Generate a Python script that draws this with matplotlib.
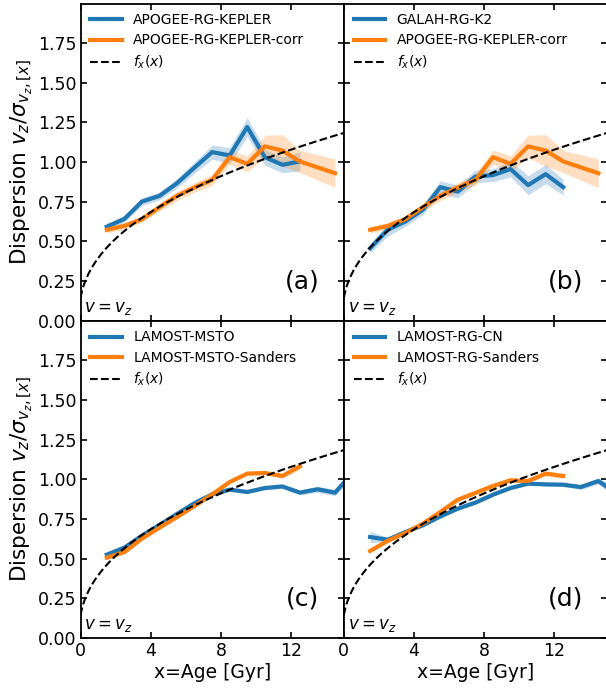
import numpy as np
import matplotlib
matplotlib.use("Agg")
import matplotlib.pyplot as plt

# ---------------- data ----------------
age_apogee = [1.5, 2.5, 3.5, 4.5, 5.5, 6.5, 7.5, 8.5, 9.5, 10.5, 11.5, 12.5]
apogee_kepler = [0.593, 0.642, 0.751, 0.787, 0.867, 0.966, 1.063, 1.042, 1.221, 1.031, 0.983, 1.004]
apogee_kepler_err = [0.02, 0.02, 0.025, 0.025, 0.03, 0.035, 0.045, 0.05, 0.06, 0.05, 0.05, 0.06]

age_corr = [1.5, 2.5, 3.5, 4.5, 5.5, 6.5, 7.5, 8.5, 9.5, 10.5, 11.5, 12.5, 13.5, 14.5]
apogee_corr = [0.573, 0.598, 0.640, 0.716, 0.787, 0.840, 0.888, 1.031, 0.989, 1.099, 1.073, 1.004, 0.967, 0.930]
apogee_corr_err = [0.02, 0.02, 0.02, 0.025, 0.03, 0.03, 0.035, 0.045, 0.05, 0.07, 0.1, 0.07, 0.08, 0.09]

age_galah = [1.5, 2.5, 3.5, 4.5, 5.5, 6.5, 7.5, 8.5, 9.5, 10.5, 11.5, 12.5]
galah_k2 = [0.457, 0.573, 0.625, 0.699, 0.842, 0.814, 0.909, 0.918, 0.956, 0.855, 0.924, 0.842]
galah_k2_err = [0.03, 0.04, 0.03, 0.03, 0.04, 0.04, 0.04, 0.04, 0.05, 0.06, 0.06, 0.05]

age_msto = [1.5, 2.5, 3.5, 4.5, 5.5, 6.5, 7.5, 8.5, 9.5, 10.5, 11.5, 12.5, 13.5, 14.5, 15.5]
lamost_msto = [0.525, 0.569, 0.645, 0.712, 0.782, 0.850, 0.905, 0.935, 0.920, 0.945, 0.955, 0.916, 0.937, 0.916, 1.04]
lamost_msto_err = [0.012, 0.01, 0.01, 0.01, 0.01, 0.01, 0.01, 0.01, 0.01, 0.012, 0.012, 0.015, 0.02, 0.02, 0.03]

age_msto_s = [1.5, 2.5, 3.5, 4.5, 5.5, 6.5, 7.5, 8.5, 9.5, 10.5, 11.5, 12.5]
lamost_msto_sanders = [0.506, 0.541, 0.626, 0.695, 0.762, 0.832, 0.905, 0.983, 1.036, 1.040, 1.021, 1.082]
lamost_msto_sanders_err = [0.012, 0.01, 0.01, 0.01, 0.01, 0.01, 0.01, 0.01, 0.012, 0.012, 0.015, 0.02]

age_rgcn = [1.5, 2.5, 3.5, 4.5, 5.5, 6.5, 7.5, 8.5, 9.5, 10.5, 11.5, 12.5, 13.5, 14.5, 15.5]
lamost_rg_cn = [0.636, 0.619, 0.667, 0.710, 0.766, 0.815, 0.853, 0.903, 0.945, 0.973, 0.968, 0.966, 0.951, 0.989, 0.915]
lamost_rg_cn_err = [0.035, 0.015, 0.01, 0.01, 0.01, 0.01, 0.01, 0.01, 0.01, 0.01, 0.01, 0.012, 0.015, 0.02, 0.03]

age_rg_s = [1.5, 2.5, 3.5, 4.5, 5.5, 6.5, 7.5, 8.5, 9.5, 10.5, 11.5, 12.5]
lamost_rg_sanders = [0.548, 0.612, 0.661, 0.720, 0.794, 0.872, 0.914, 0.958, 0.994, 0.989, 1.036, 1.021]
lamost_rg_sanders_err = [0.01, 0.01, 0.01, 0.01, 0.01, 0.01, 0.01, 0.01, 0.012, 0.012, 0.015, 0.015]

# model f_x(x) = ((x + tau1) / (10 + tau1))**beta
tau1 = 0.1
beta = 0.42

panels = [
    ("APOGEE-RG-KEPLER", age_apogee, apogee_kepler, apogee_kepler_err,
     "APOGEE-RG-KEPLER-corr", age_corr, apogee_corr, apogee_corr_err, "(a)"),
    ("GALAH-RG-K2", age_galah, galah_k2, galah_k2_err,
     "APOGEE-RG-KEPLER-corr", age_corr, apogee_corr, apogee_corr_err, "(b)"),
    ("LAMOST-MSTO", age_msto, lamost_msto, lamost_msto_err,
     "LAMOST-MSTO-Sanders", age_msto_s, lamost_msto_sanders, lamost_msto_sanders_err, "(c)"),
    ("LAMOST-RG-CN", age_rgcn, lamost_rg_cn, lamost_rg_cn_err,
     "LAMOST-RG-Sanders", age_rg_s, lamost_rg_sanders, lamost_rg_sanders_err, "(d)"),
]

# ---------------- figure ----------------
W, H = 606, 689
fig = plt.figure(figsize=(W / 100, H / 100), dpi=100)

left = 80.5
pw = 263.3
top = 3.5
ph = 317.2
positions = [
    (left, top), (left + pw, top),
    (left, top + ph), (left + pw, top + ph),
]

blue = "#1f77b4"
orange = "#ff7f0e"
xm = np.linspace(0, 16, 400)
fm = ((xm + tau1) / (10 + tau1)) ** beta

for i, (pos, p) in enumerate(zip(positions, panels)):
    lb, xb, yb, eb, lo, xo, yo, eo, tag = p
    x0, y0 = pos
    ax = fig.add_axes([x0 / W, 1 - (y0 + ph) / H, pw / W, ph / H])
    xb_ = np.array(xb); yb_ = np.array(yb); eb_ = np.array(eb)
    xo_ = np.array(xo); yo_ = np.array(yo); eo_ = np.array(eo)
    ax.fill_between(xb_, yb_ - eb_, yb_ + eb_, color=blue, alpha=0.25, lw=0)
    ax.fill_between(xo_, yo_ - eo_, yo_ + eo_, color=orange, alpha=0.25, lw=0)
    ax.plot(xb_, yb_, color=blue, lw=3, label=lb)
    ax.plot(xo_, yo_, color=orange, lw=3, label=lo)
    ax.plot(xm, fm, color="black", ls="--", lw=1.5, label=r"$f_x(x)$")
    ax.set_xlim(0, 15)
    ax.set_ylim(0, 2.0)
    ax.set_xticks([0, 4, 8, 12])
    ax.set_yticks(np.arange(0, 1.76, 0.25))
    ax.tick_params(direction="in", top=True, right=True, length=4, width=1.2,
                   labelsize=12.5, pad=3)
    for s in ax.spines.values():
        s.set_linewidth(1.3)
    if i % 2 == 1:
        ax.tick_params(labelleft=False)
    else:
        ax.set_ylabel(r"Dispersion $v_z/\sigma_{v_z,[x]}$", fontsize=15.5,
                      family=["DejaVu Sans Condensed", "DejaVu Sans"], labelpad=2)
    if i < 2:
        ax.tick_params(labelbottom=False)
    else:
        ax.set_xlabel("x=Age [Gyr]", fontsize=13.5, labelpad=2)
    ax.legend(loc="upper left", frameon=False, fontsize=10, handlelength=2.3,
              borderaxespad=0.3, labelspacing=0.45)
    ax.text(0.843, 0.124, tag, transform=ax.transAxes, fontsize=18,
            ha="center", va="center")
    ax.text(0.015, 0.012, r"$v = v_z$", transform=ax.transAxes, fontsize=12,
            ha="left", va="bottom")

fig.savefig("out.png", dpi=100)
